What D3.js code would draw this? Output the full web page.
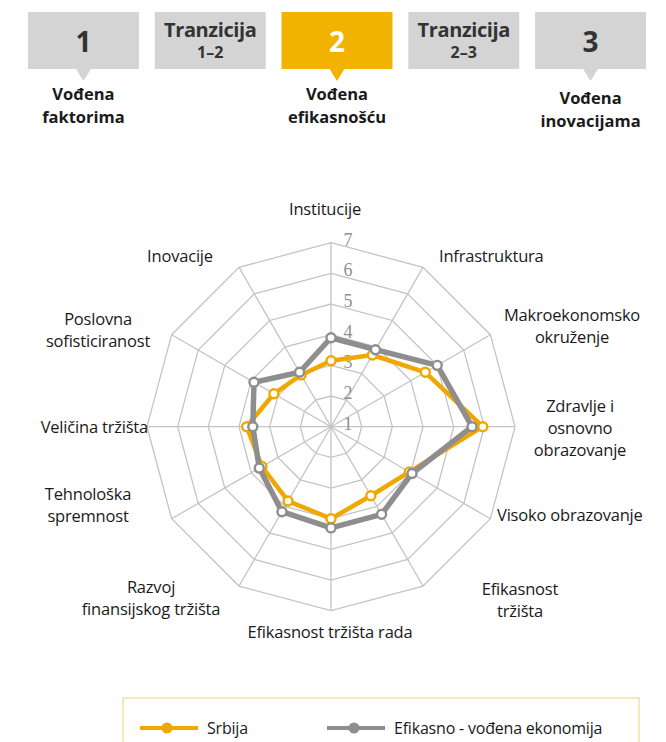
<!DOCTYPE html>
<html>
<head>
<meta charset="utf-8">
<script src="https://cdn.jsdelivr.net/npm/d3@7"></script>
<style>
  html, body { margin: 0; padding: 0; background: #fff; }
  svg { display: block; font-family: "Open Sans", Lato, sans-serif; }
</style>
</head>
<body>
<svg id="chart" width="666" height="742"></svg>
<script>
// Stage boxes across the top
const stageTitles = ["1", "Tranzicija", "2", "Tranzicija", "3"];
const stageSubtitles = ["", "1–2", "", "2–3", ""];
const stageCaptions = [["Vođena", "faktorima"], null, ["Vođena", "efikasnošću"], null, ["Vođena", "inovacijama"]];
const activeStage = 2;

// Radar pillars (clockwise from the top)
const pillars = [
  "Institucije", "Infrastruktura", "Makroekonomsko okruženje",
  "Zdravlje i osnovno obrazovanje", "Visoko obrazovanje", "Efikasnost tržišta",
  "Efikasnost tržišta rada", "Razvoj finansijskog tržišta", "Tehnološka spremnost",
  "Veličina tržišta", "Poslovna sofisticiranost", "Inovacije"
];
const seriesNames = ["Srbija", "Efikasno - vođena ekonomija"];
const srbija    = [3.15, 3.70, 4.55, 5.95, 3.95, 3.60, 4.00, 3.80, 3.60, 3.75, 3.15, 2.95];
const efficient = [3.90, 3.90, 5.00, 5.60, 4.05, 4.30, 4.30, 4.20, 3.70, 3.55, 3.90, 3.05];
const scaleTicks = [1, 2, 3, 4, 5, 6, 7];

// ---- layout & style ----
const svg = d3.select("#chart");
const orange = "#f0a800";
const grey = "#8e8e8e";
const boxGrey = "#d4d4d4";
const boxOrange = "#f2b300";
const textDark = "#333333";

// Top stage boxes
const stageX = d3.scaleBand().domain(d3.range(stageTitles.length)).range([28, 646]).paddingInner(0.125);
const boxTop = 12, boxH = 57;
const bw = stageX.bandwidth();
const stage = svg.append("g").selectAll("g").data(stageTitles).join("g")
  .attr("transform", (d, i) => `translate(${stageX(i)},0)`);
const fillFor = i => i === activeStage ? boxOrange : boxGrey;
stage.append("rect")
  .attr("y", boxTop).attr("width", bw).attr("height", boxH)
  .attr("fill", (d, i) => fillFor(i));
stage.each(function (d, i) {
  const g = d3.select(this);
  if (stageCaptions[i]) {
    const c = bw / 2, b = boxTop + boxH;
    g.append("path")
      .attr("d", `M${c - 8},${b - 1} L${c + 8},${b - 1} L${c},${b + 12} Z`)
      .attr("fill", fillFor(i));
    const off = i === stageTitles.length - 1 ? 4 : 0;
    g.append("text")
      .attr("text-anchor", "middle")
      .attr("font-weight", 700)
      .attr("font-size", 16.5)
      .attr("fill", "#1a1a1a")
      .selectAll("tspan").data(stageCaptions[i]).join("tspan")
      .attr("x", c)
      .attr("y", (t, k) => 100 + off + k * 23)
      .text(t => t);
  }
});
stage.append("text")
  .attr("x", bw / 2)
  .attr("y", (d, i) => stageSubtitles[i] ? 37 : 52)
  .attr("text-anchor", "middle")
  .attr("font-weight", 700)
  .attr("font-size", (d, i) => stageSubtitles[i] ? 20 : 28)
  .attr("letter-spacing", (d, i) => stageSubtitles[i] ? -0.4 : 0)
  .attr("fill", (d, i) => i === activeStage ? "#fff" : textDark)
  .text(d => d);
stage.append("text")
  .attr("x", bw / 2)
  .attr("y", 58)
  .attr("text-anchor", "middle")
  .attr("font-weight", 700)
  .attr("font-size", 16)
  .attr("fill", textDark)
  .text((d, i) => stageSubtitles[i]);

// Radar
const cx = 331, cy = 426.7;
const r = d3.scaleLinear().domain([1, 7]).range([0, 184]);
const angle = d3.scaleLinear().domain([0, pillars.length]).range([0, 2 * Math.PI]);
const pt = (i, v) => [cx + r(v) * Math.sin(angle(i)), cy - r(v) * Math.cos(angle(i))];

const grid = svg.append("g").attr("fill", "none").attr("stroke", "#c4c4c4").attr("stroke-width", 1.3);
grid.selectAll("path.ring").data(scaleTicks.slice(1)).join("path")
  .attr("class", "ring")
  .attr("d", v => d3.line()(pillars.map((p, i) => pt(i, v))) + "Z");
grid.selectAll("line").data(pillars).join("line")
  .attr("x1", cx).attr("y1", cy)
  .attr("x2", (p, i) => pt(i, 7)[0]).attr("y2", (p, i) => pt(i, 7)[1]);

svg.append("g").selectAll("text").data(scaleTicks).join("text")
  .attr("x", cx + 17)
  .attr("y", v => cy - r(v) + 3)
  .attr("text-anchor", "middle")
  .attr("font-family", "'Liberation Serif', serif")
  .attr("font-size", 18)
  .attr("fill", "#909090")
  .text(v => v);

// Series: Srbija below, efficiency-driven average on top
const series = [
  { values: srbija, color: orange, width: 4.5 },
  { values: efficient, color: grey, width: 5.5 }
];
const sg = svg.append("g").selectAll("g").data(series).join("g");
sg.append("path")
  .attr("d", s => d3.line()(s.values.map((v, i) => pt(i, v))) + "Z")
  .attr("fill", "none")
  .attr("stroke", s => s.color)
  .attr("stroke-width", s => s.width)
  .attr("stroke-linejoin", "round");
sg.selectAll("circle").data(s => s.values.map((v, i) => ({ v, i, c: s.color }))).join("circle")
  .attr("cx", d => pt(d.i, d.v)[0])
  .attr("cy", d => pt(d.i, d.v)[1])
  .attr("r", 4.5)
  .attr("fill", "#fff")
  .attr("stroke", d => d.c)
  .attr("stroke-width", 2.4);

// Pillar labels
const labelLayout = [
  { x: 325, y: 215, a: "middle", lines: ["Institucije"] },
  { x: 439, y: 262, a: "start", lines: ["Infrastruktura"] },
  { x: 572, y: 321, a: "middle", lines: ["Makroekonomsko", "okruženje"] },
  { x: 580, y: 412, a: "middle", lines: ["Zdravlje i", "osnovno", "obrazovanje"] },
  { x: 497, y: 521, a: "start", lines: ["Visoko obrazovanje"] },
  { x: 520, y: 595, a: "middle", lines: ["Efikasnost", "tržišta"] },
  { x: 330, y: 638, a: "middle", lines: ["Efikasnost tržišta rada"] },
  { x: 151, y: 593, a: "middle", lines: ["Razvoj", "finansijskog tržišta"] },
  { x: 88, y: 500, a: "middle", lines: ["Tehnološka", "spremnost"] },
  { x: 148, y: 433, a: "end", lines: ["Veličina tržišta"] },
  { x: 98, y: 325, a: "middle", lines: ["Poslovna", "sofisticiranost"] },
  { x: 180, y: 262, a: "middle", lines: ["Inovacije"] }
];
const lab = svg.append("g").attr("font-size", 16.5).attr("fill", "#1a1a1a")
  .attr("letter-spacing", -0.2)
  .selectAll("text").data(pillars).join("text")
  .attr("text-anchor", (p, i) => labelLayout[i].a);
lab.selectAll("tspan").data((p, i) => labelLayout[i].lines.map((t, k) => ({ t, k, L: labelLayout[i] }))).join("tspan")
  .attr("x", d => d.L.x)
  .attr("y", d => d.L.y + d.k * 22)
  .text(d => d.t);

// Legend
const legend = svg.append("g");
legend.append("rect")
  .attr("x", 123).attr("y", 698).attr("width", 516).attr("height", 60)
  .attr("fill", "#fff").attr("stroke", "#f0e2a6").attr("stroke-width", 1.5);
const lx = [140, 327];
const li = legend.selectAll("g").data(seriesNames).join("g")
  .attr("transform", (d, i) => `translate(${lx[i]},728)`);
li.append("line").attr("x1", 0).attr("x2", 58)
  .attr("stroke", (d, i) => series[i].color).attr("stroke-width", 4);
li.append("circle").attr("cx", 27).attr("r", 5.5)
  .attr("fill", (d, i) => series[i].color);
li.append("text").attr("x", 67).attr("y", 6)
  .attr("font-size", 16).attr("fill", "#1a1a1a")
  .attr("letter-spacing", -0.2)
  .text(d => d);
</script>
</body>
</html>
